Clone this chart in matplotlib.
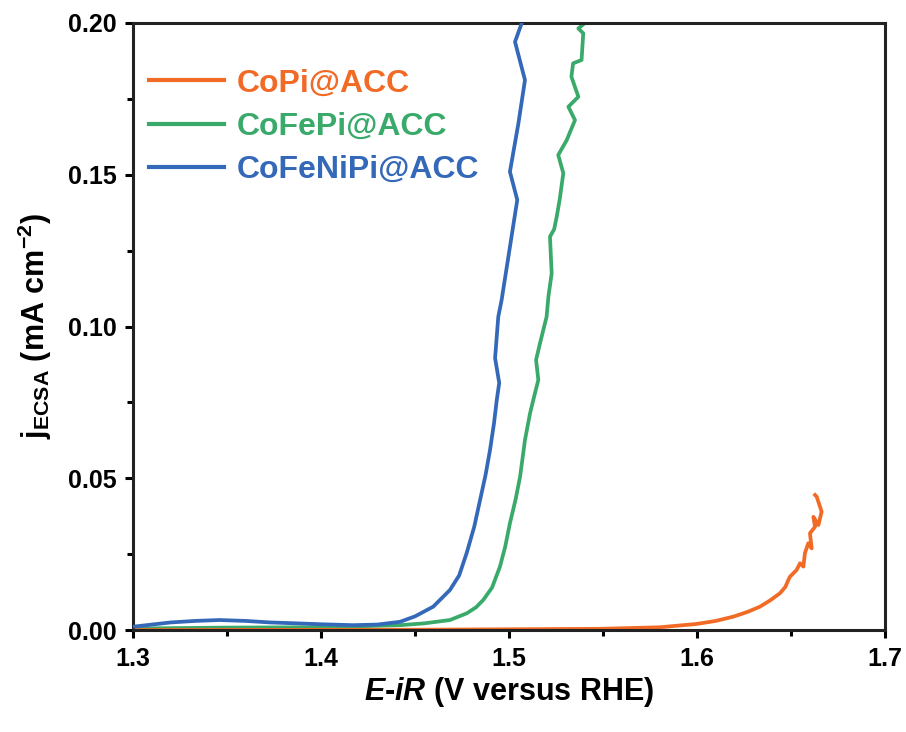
import matplotlib
matplotlib.use("Agg")
import matplotlib.pyplot as plt
from matplotlib.ticker import MultipleLocator, FormatStrFormatter

plt.rcParams['font.family'] = ['Liberation Sans', 'DejaVu Sans']
plt.rcParams['font.weight'] = 'bold'
plt.rcParams['axes.labelweight'] = 'bold'
plt.rcParams['mathtext.fontset'] = 'custom'
plt.rcParams['mathtext.rm'] = 'Liberation Sans:bold'
plt.rcParams['mathtext.it'] = 'Liberation Sans:bold:italic'
plt.rcParams['mathtext.default'] = 'rm'

# CoPi@ACC
copi_x = [1.300, 1.450, 1.5484, 1.580, 1.5998, 1.610, 1.6193, 1.627, 1.6335, 1.639,
          1.6441, 1.6470, 1.6486, 1.6495, 1.6530, 1.6548, 1.6566, 1.6574, 1.6592,
          1.6610, 1.6601, 1.6628, 1.6619, 1.6646, 1.6663, 1.6637, 1.6628]
copi_y = [0.0000, 0.0001, 0.0004, 0.0009, 0.0020, 0.0030, 0.0044, 0.0060, 0.0077, 0.0098,
          0.0121, 0.0142, 0.0165, 0.0176, 0.0198, 0.0220, 0.0209, 0.0253, 0.0286,
          0.0269, 0.0319, 0.0340, 0.0373, 0.0346, 0.0390, 0.0439, 0.0445]

# CoFePi@ACC
cofepi_x = [1.300, 1.350, 1.400, 1.442, 1.455, 1.4686, 1.4775, 1.4825, 1.4863, 1.4910,
            1.4952, 1.4980, 1.5005, 1.5035, 1.5059, 1.5085, 1.5112, 1.5130, 1.5156,
            1.5144, 1.5165, 1.5200, 1.5210, 1.5227, 1.5218, 1.5240, 1.5254, 1.5270,
            1.5289, 1.5262, 1.5307, 1.5351, 1.5316, 1.5369, 1.5332, 1.5341, 1.5386,
            1.5395, 1.5369, 1.5404]
cofepi_y = [0.0005, 0.0008, 0.0009, 0.0016, 0.0022, 0.0033, 0.0055, 0.0075, 0.0099, 0.0140,
            0.0209, 0.0275, 0.0352, 0.0430, 0.0505, 0.0626, 0.0714, 0.0760, 0.0824,
            0.0890, 0.0945, 0.1032, 0.1100, 0.1175, 0.1296, 0.1320, 0.1362, 0.1420,
            0.1505, 0.1565, 0.1614, 0.1680, 0.1724, 0.1757, 0.1823, 0.1867, 0.1878,
            0.1966, 0.1982, 0.2000]

# CoFeNiPi@ACC
cofenipi_x = [1.300, 1.310, 1.320, 1.333, 1.346, 1.360, 1.373, 1.387, 1.400, 1.417,
              1.430, 1.442, 1.450, 1.4597, 1.4686, 1.4735, 1.4775, 1.4815, 1.4846,
              1.4875, 1.4899, 1.4920, 1.4935, 1.4948, 1.4926, 1.4943, 1.4961, 1.5044,
              1.5005, 1.5050, 1.5085, 1.5032, 1.5068]
cofenipi_y = [0.0011, 0.0018, 0.0025, 0.0030, 0.0033, 0.0030, 0.0025, 0.0022, 0.0019, 0.0016,
              0.0018, 0.0027, 0.0045, 0.0077, 0.0132, 0.0180, 0.0254, 0.0340, 0.0428,
              0.0510, 0.0593, 0.0680, 0.0758, 0.0814, 0.0896, 0.1032, 0.1088, 0.1417,
              0.1510, 0.1669, 0.1812, 0.1938, 0.2000]

names = ['CoPi@ACC', 'CoFePi@ACC', 'CoFeNiPi@ACC']
colors = ['#f26b26', '#3aaa6b', '#3468b8']

fig = plt.figure(figsize=(9.06, 7.32), dpi=100)
ax = fig.add_axes([0.1468, 0.1393, 0.83, 0.8293])

ax.plot(cofepi_x, cofepi_y, color=colors[1], lw=2.7, label=names[1], zorder=2)
ax.plot(cofenipi_x, cofenipi_y, color=colors[2], lw=2.7, label=names[2], zorder=3)
ax.plot(copi_x, copi_y, color=colors[0], lw=2.7, label=names[0], zorder=2.5)

ax.set_xlim(1.3, 1.7)
ax.set_ylim(0, 0.2)
ax.xaxis.set_major_locator(MultipleLocator(0.1))
ax.xaxis.set_minor_locator(MultipleLocator(0.05))
ax.yaxis.set_major_locator(MultipleLocator(0.05))
ax.yaxis.set_minor_locator(MultipleLocator(0.025))
ax.xaxis.set_major_formatter(FormatStrFormatter('%.1f'))
ax.yaxis.set_major_formatter(FormatStrFormatter('%.2f'))

for s in ax.spines.values():
    s.set_linewidth(2.2)
    s.set_color('#222222')
ax.tick_params(which='major', direction='out', length=6, width=2.2, labelsize=18, pad=6)
ax.tick_params(which='minor', direction='out', length=4, width=2.2)

ax.set_xlabel(r'$\mathit{E}$-$\mathit{iR}$ (V versus RHE)', fontsize=22, labelpad=3)
ax.set_ylabel(r'j$_{\mathregular{ECSA}}$ (mA cm$^{\mathregular{-2}}$)', fontsize=22, labelpad=10)

handles, labels = ax.get_legend_handles_labels()
order = [labels.index(n) for n in names]
leg = ax.legend([handles[i] for i in order], [labels[i] for i in order],
                loc='upper left', bbox_to_anchor=(-0.008, 0.962), frameon=False,
                fontsize=23, handlelength=2.35, handletextpad=0.4, labelspacing=0.42,
                borderaxespad=0.3)
for txt, c in zip(leg.get_texts(), colors):
    txt.set_color(c)
for ln in leg.get_lines():
    ln.set_linewidth(3)

fig.savefig('out.png', dpi=100)
